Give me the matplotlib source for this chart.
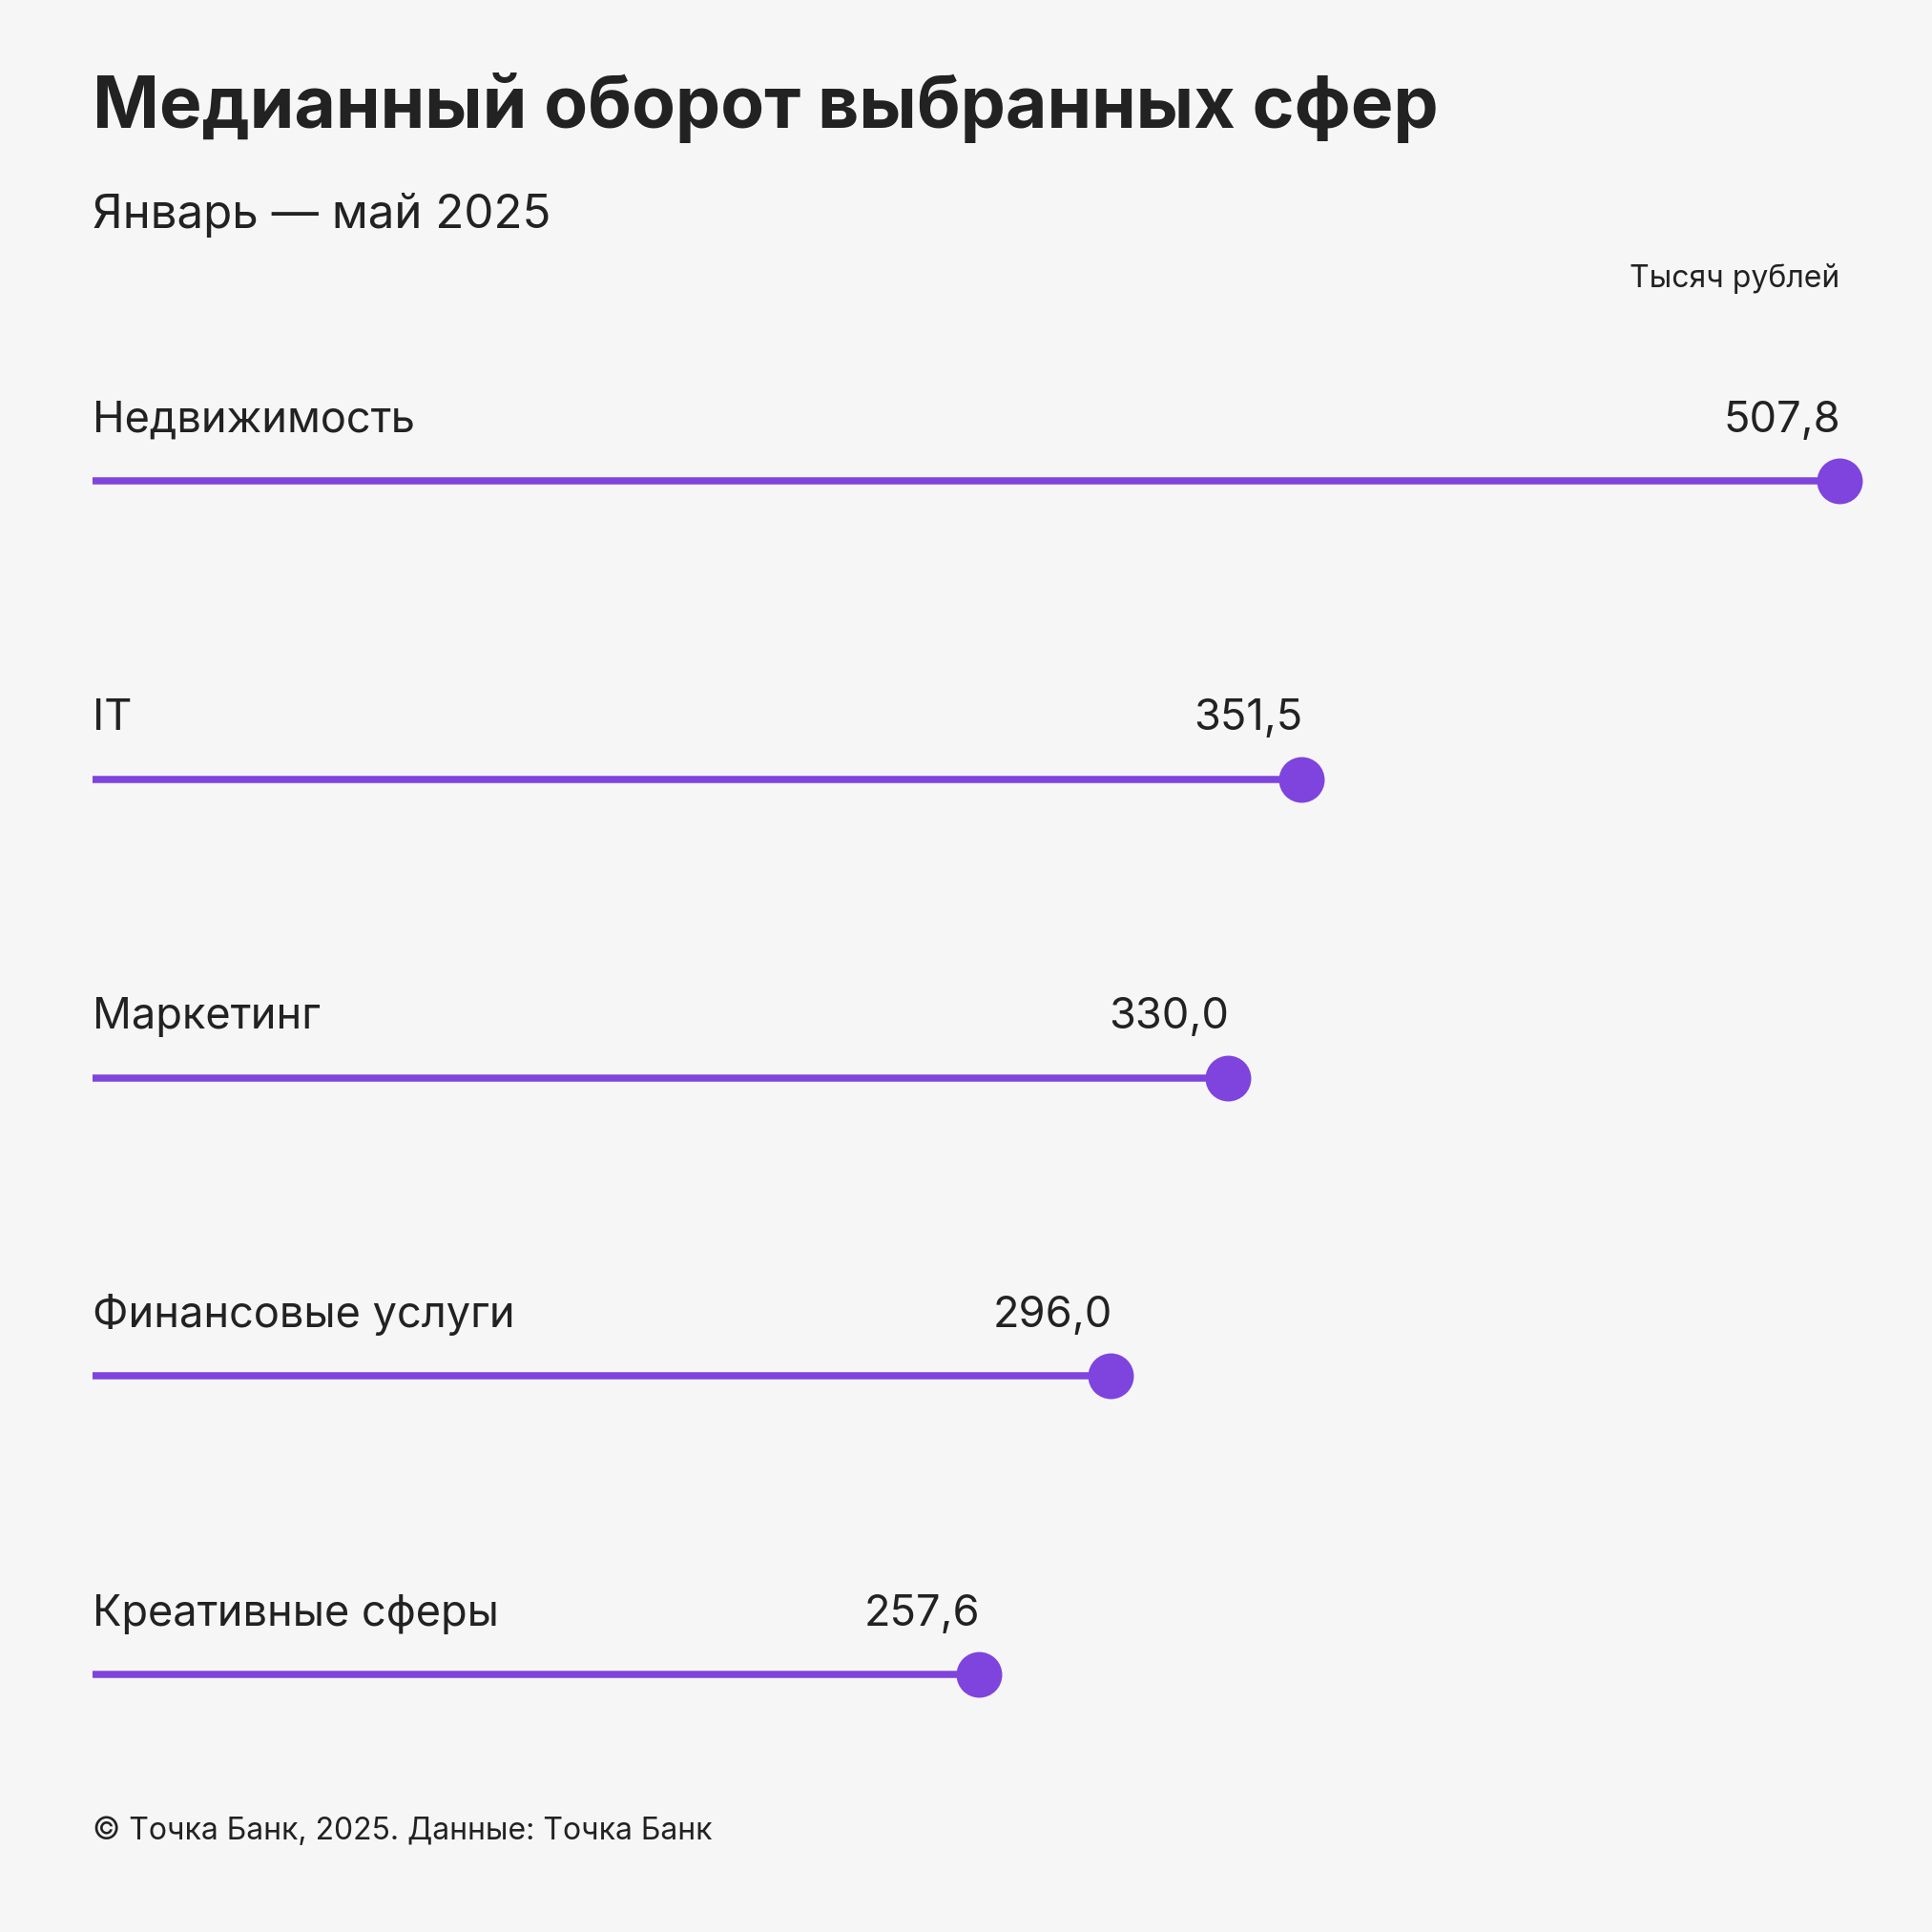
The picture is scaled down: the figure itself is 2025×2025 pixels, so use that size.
import matplotlib
matplotlib.use("Agg")
import matplotlib.pyplot as plt

plt.rcParams['font.family'] = ['Inter', 'DejaVu Sans']

# Data
categories = ["Недвижимость", "IT", "Маркетинг", "Финансовые услуги", "Креативные сферы"]
values = [507.8, 351.5, 330.0, 296.0, 257.6]
value_labels = ["507,8", "351,5", "330,0", "296,0", "257,6"]

title = "Медианный оборот выбранных сфер"
subtitle = "Январь — май 2025"
unit = "Тысяч рублей"
footer = "© Точка Банк, 2025. Данные: Точка Банк"

bg = "#F6F6F6"
purple = "#7F43DE"
ink = "#222222"

W = 2025
fig = plt.figure(figsize=(20.25, 20.25), dpi=100, facecolor=bg)

def fx(px):
    return px / W

def fy(px):
    return 1 - px / W

# plot area: x=0 at 97px, max at 1928px; rows from 504px to 1755px
ax = fig.add_axes([fx(97), fy(1755), fx(1928 - 97), (1755 - 504) / W])
ax.set_facecolor(bg)
ax.set_xlim(0, max(values))
ax.set_ylim(len(categories) - 1, 0)
ax.axis("off")

for i, (cat, v, lab) in enumerate(zip(categories, values, value_labels)):
    ax.plot([0, v], [i, i], color=purple, lw=5.4, solid_capstyle="butt",
            clip_on=False, zorder=2)
    ax.plot([v], [i], "o", color=purple, markersize=34.5, markeredgewidth=0,
            clip_on=False, zorder=3)
    ax.annotate(cat, (0, i), xytext=(0, 37), textcoords="offset points",
                ha="left", va="baseline", fontsize=32.5, color=ink)
    ax.annotate(lab, (v, i), xytext=(1, 37), textcoords="offset points",
                ha="right", va="baseline", fontsize=32.5, color=ink)

fig.text(fx(97), fy(134), title, fontsize=54, fontweight="bold", color=ink,
         ha="left", va="baseline")
fig.text(fx(97), fy(239), subtitle, fontsize=35.5, color=ink,
         ha="left", va="baseline")
fig.text(fx(1928), fy(301), unit, fontsize=23, color=ink,
         ha="right", va="baseline")
fig.text(fx(97), fy(1928), footer, fontsize=23, color=ink,
         ha="left", va="baseline")

fig.savefig("out.png", dpi=100, facecolor=bg)
